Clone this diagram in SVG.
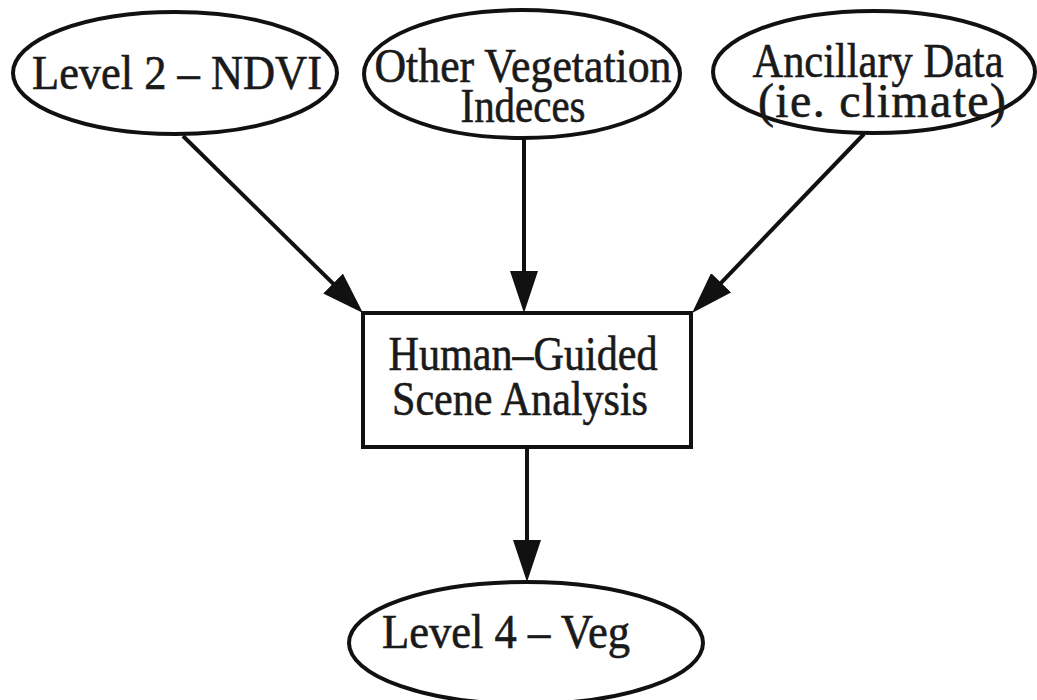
<svg xmlns="http://www.w3.org/2000/svg" width="1037" height="700" viewBox="0 0 1037 700">
<defs>
<style>
.shape{fill:none;stroke:#111;stroke-width:4}
.lbl{font-family:"Liberation Serif","Times New Roman",serif;font-size:48px;fill:#1a1a1a;stroke:#1a1a1a;stroke-width:0.6;text-anchor:middle}
.edge{stroke:#111;stroke-width:4;fill:none}
</style>
<marker id="arrow" markerUnits="userSpaceOnUse" markerWidth="42" markerHeight="28" refX="34" refY="14" orient="auto">
<path d="M0,0 L42,14 L0,28 Z" fill="#111"/>
</marker>
</defs>
<rect width="1037" height="700" fill="#fff"/>
<g id="connectors">
<line class="edge" x1="183" y1="136" x2="357.3" y2="307.4" marker-end="url(#arrow)"/>
<line class="edge" x1="524" y1="139" x2="524" y2="305" marker-end="url(#arrow)"/>
<line class="edge" x1="864" y1="134" x2="697.6" y2="307.3" marker-end="url(#arrow)"/>
<line class="edge" x1="527" y1="447" x2="527" y2="574" marker-end="url(#arrow)"/>
</g>
<g id="node-level2">
<ellipse class="shape" cx="175" cy="73" rx="162" ry="61"/>
<text class="lbl" x="177" y="89" textLength="290" lengthAdjust="spacingAndGlyphs">Level 2 – NDVI</text>
</g>
<g id="node-other-veg">
<ellipse class="shape" cx="522" cy="74" rx="158" ry="64"/>
<text class="lbl" x="523" y="82" textLength="297" lengthAdjust="spacingAndGlyphs">Other Vegetation</text>
<text class="lbl" x="523" y="122" textLength="125" lengthAdjust="spacingAndGlyphs">Indeces</text>
</g>
<g id="node-ancillary">
<ellipse class="shape" cx="874" cy="72" rx="161" ry="61"/>
<text class="lbl" x="878" y="77" textLength="251" lengthAdjust="spacingAndGlyphs">Ancillary Data</text>
<text class="lbl" x="882" y="117" textLength="248" lengthAdjust="spacing">(ie. climate)</text>
</g>
<g id="node-scene">
<rect class="shape" x="363" y="313" width="328" height="134"/>
<text class="lbl" x="523" y="370" textLength="269" lengthAdjust="spacingAndGlyphs">Human–Guided</text>
<text class="lbl" x="520" y="415" textLength="256" lengthAdjust="spacingAndGlyphs">Scene Analysis</text>
</g>
<g id="node-level4">
<ellipse class="shape" cx="526" cy="643" rx="177" ry="61"/>
<text class="lbl" x="506" y="648" textLength="248" lengthAdjust="spacingAndGlyphs">Level 4 – Veg</text>
</g>
</svg>
